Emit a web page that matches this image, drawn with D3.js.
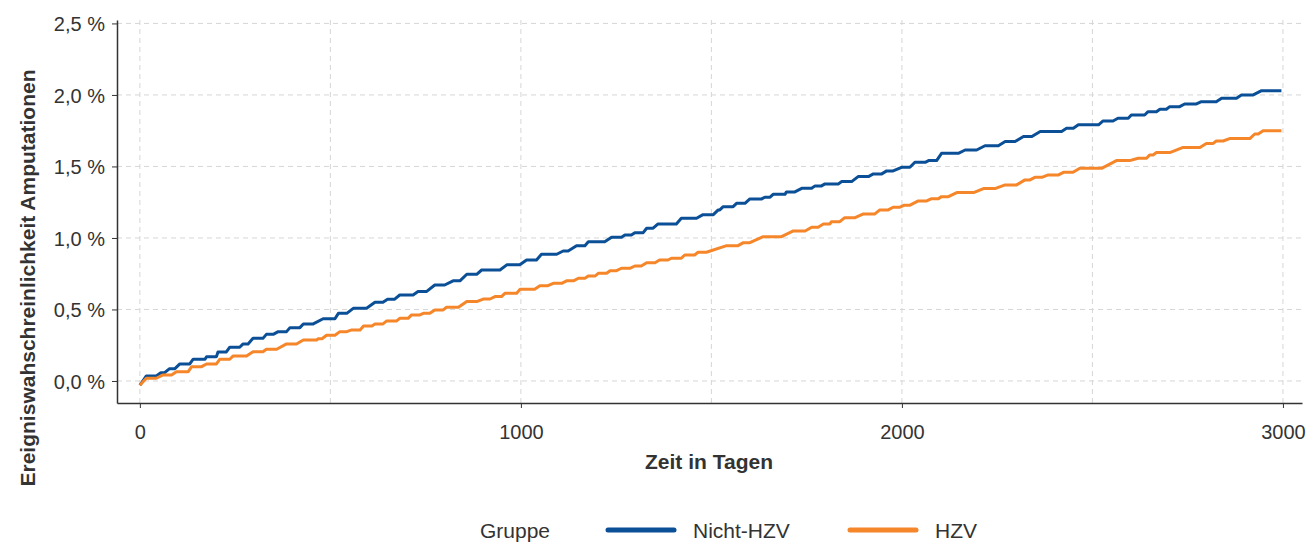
<!DOCTYPE html>
<html>
<head>
<meta charset="utf-8">
<script src="https://cdn.jsdelivr.net/npm/d3@7"></script>
<style>
  body { margin: 0; background: #fff; }
  svg text { font-family: "Liberation Sans", Arial, sans-serif; fill: #333; }
</style>
</head>
<body>
<svg id="chart" width="1306" height="542"></svg>
<script>
// Stufen der Kurven: Beginn, Ende (Tage) und Wert (%)
var nichtStart = [0, 17, 55, 78, 105, 140, 175, 205, 236, 271, 297, 332, 363, 394, 429, 481, 521, 560, 617, 650, 682, 730, 774, 822, 858, 897, 963, 1015, 1054, 1111, 1146, 1177, 1238, 1273, 1299, 1330, 1360, 1421, 1478, 1518, 1531, 1566, 1601, 1640, 1662, 1697, 1737, 1772, 1798, 1842, 1885, 1925, 1960, 1999, 2034, 2070, 2104, 2166, 2218, 2271, 2319, 2363, 2432, 2463, 2528, 2567, 2602, 2646, 2677, 2703, 2742, 2786, 2839, 2891, 2944]
var nichtEnde  = [0, 43, 65, 92, 131, 171, 201, 227, 262, 284, 323, 350, 385, 420, 455, 512, 543, 595, 638, 668, 717, 752, 800, 840, 884, 945, 997, 1041, 1094, 1124, 1168, 1220, 1264, 1290, 1321, 1347, 1408, 1461, 1505, 1522, 1557, 1588, 1632, 1654, 1693, 1719, 1763, 1789, 1833, 1868, 1912, 1947, 1977, 2021, 2061, 2091, 2148, 2196, 2253, 2297, 2341, 2419, 2450, 2516, 2554, 2594, 2637, 2668, 2694, 2729, 2773, 2825, 2878, 2922, 2996]
var nichtWert  = [-0.03, 0.035, 0.058, 0.086, 0.119, 0.152, 0.17, 0.203, 0.236, 0.259, 0.298, 0.326, 0.345, 0.373, 0.399, 0.435, 0.473, 0.508, 0.55, 0.571, 0.601, 0.625, 0.671, 0.70, 0.746, 0.776, 0.812, 0.846, 0.886, 0.909, 0.946, 0.974, 1.005, 1.021, 1.037, 1.068, 1.098, 1.138, 1.163, 1.196, 1.219, 1.242, 1.273, 1.285, 1.305, 1.322, 1.347, 1.364, 1.378, 1.394, 1.429, 1.448, 1.469, 1.494, 1.529, 1.541, 1.592, 1.615, 1.645, 1.674, 1.709, 1.745, 1.767, 1.791, 1.818, 1.837, 1.86, 1.883, 1.90, 1.918, 1.937, 1.953, 1.977, 2.0, 2.03]

var hzvStart = [0, 17, 61, 96, 136, 175, 210, 245, 297, 332, 385, 429, 468, 490, 525, 556, 587, 617, 648, 682, 713, 744, 774, 805, 858, 901, 932, 958, 998, 1050, 1085, 1120, 1151, 1177, 1203, 1234, 1264, 1299, 1330, 1364, 1395, 1430, 1465, 1540, 1584, 1636, 1715, 1763, 1794, 1815, 1850, 1899, 1942, 1977, 2005, 2043, 2078, 2104, 2144, 2214, 2271, 2323, 2349, 2384, 2424, 2467, 2563, 2620, 2650, 2668, 2738, 2799, 2825, 2860, 2926, 2948]
var hzvEnde  = [0, 43, 83, 127, 162, 201, 236, 280, 323, 359, 411, 464, 478, 512, 543, 578, 609, 638, 674, 704, 735, 761, 796, 836, 884, 919, 949, 989, 1036, 1071, 1107, 1138, 1168, 1195, 1225, 1251, 1286, 1316, 1352, 1386, 1421, 1456, 1487, 1570, 1601, 1684, 1746, 1780, 1811, 1837, 1877, 1929, 1964, 1995, 2020, 2065, 2096, 2122, 2188, 2244, 2301, 2336, 2367, 2411, 2449, 2524, 2598, 2642, 2659, 2703, 2782, 2817, 2843, 2913, 2935, 2996]
var hzvWert  = [-0.03, 0.019, 0.042, 0.065, 0.10, 0.119, 0.152, 0.175, 0.205, 0.222, 0.259, 0.287, 0.295, 0.32, 0.345, 0.357, 0.385, 0.399, 0.42, 0.438, 0.462, 0.473, 0.497, 0.515, 0.555, 0.573, 0.59, 0.613, 0.642, 0.666, 0.683, 0.70, 0.718, 0.734, 0.753, 0.771, 0.788, 0.804, 0.827, 0.846, 0.858, 0.881, 0.90, 0.946, 0.967, 1.009, 1.049, 1.075, 1.098, 1.114, 1.142, 1.168, 1.196, 1.215, 1.228, 1.259, 1.275, 1.289, 1.317, 1.345, 1.371, 1.406, 1.424, 1.441, 1.459, 1.487, 1.541, 1.557, 1.58, 1.597, 1.633, 1.661, 1.678, 1.695, 1.727, 1.75]

var gruppen = ['Nicht-HZV', 'HZV']
var farben = ['#0b4f96', '#f5862a']
var xTicks = [0, 1000, 2000, 3000]
var xGrid = [0, 500, 1000, 1500, 2000, 2500, 3000]
var yTicks = [0, 0.5, 1.0, 1.5, 2.0, 2.5]

var svg = d3.select('#chart')

var x = d3.scaleLinear().domain([-60, 3050]).range([117, 1302])
var y = d3.scaleLinear().domain([-0.154, 2.524]).range([403, 20])

function punkte(start, ende, wert) {
  var pts = []
  for (let i = 0; i < wert.length; i++) {
    pts.push([start[i], wert[i]])
    if (ende[i] !== start[i]) pts.push([ende[i], wert[i]])
  }
  return pts
}

var serien = [
  punkte(nichtStart, nichtEnde, nichtWert),
  punkte(hzvStart, hzvEnde, hzvWert)
]

// Gitter
svg.append('g').selectAll('line')
  .data(yTicks).enter().append('line')
    .attr('x1', 117).attr('x2', 1302)
    .attr('y1', d => y(d)).attr('y2', d => y(d))
    .attr('stroke', '#d6d6d6').attr('stroke-dasharray', '5,4')

svg.append('g').selectAll('line')
  .data(xGrid).enter().append('line')
    .attr('x1', d => x(d)).attr('x2', d => x(d))
    .attr('y1', 20).attr('y2', 403)
    .attr('stroke', '#d6d6d6').attr('stroke-dasharray', '5,4')

// Achsen
var fmt = d => d3.format('.1f')(d).replace('.', ',') + ' %'

var yAxis = svg.append('g')
  .attr('transform', 'translate(117,0)')
  .call(d3.axisLeft(y).tickValues(yTicks).tickFormat(fmt).tickSize(5).tickSizeOuter(0))
var xAxis = svg.append('g')
  .attr('transform', 'translate(0,403)')
  .call(d3.axisBottom(x).tickValues(xTicks).tickFormat(d3.format('d')).tickSize(5).tickSizeOuter(0))

;[yAxis, xAxis].forEach(function (a) {
  a.select('.domain').attr('stroke', '#333').attr('stroke-width', 1.5)
  a.selectAll('.tick line').attr('stroke', '#333')
  a.selectAll('.tick text').attr('font-size', 20).attr('fill', '#333')
    .style('font-family', '"Liberation Sans", Arial, sans-serif')
})
yAxis.selectAll('.tick text').attr('x', -12).attr('dy', '0.36em')
xAxis.selectAll('.tick text').attr('y', 22).attr('dy', '0.71em')

// Kurven
var line = d3.line().x(d => x(d[0])).y(d => y(d[1]))

svg.append('g').selectAll('path')
  .data(serien).enter().append('path')
    .attr('d', line)
    .attr('fill', 'none')
    .attr('stroke', (d, i) => farben[i])
    .attr('stroke-width', 3)
    .attr('stroke-linejoin', 'round')

// Titel
svg.append('text')
  .attr('x', 709).attr('y', 469)
  .attr('text-anchor', 'middle')
  .attr('font-size', 21).attr('font-weight', 'bold')
  .attr('fill', '#222')
  .text('Zeit in Tagen')

svg.append('text')
  .attr('transform', 'translate(35,278) rotate(-90)')
  .attr('text-anchor', 'middle')
  .attr('font-size', 21).attr('font-weight', 'bold')
  .attr('fill', '#222')
  .text('Ereigniswahschreinlichkeit Amputationen')

// Legende
svg.append('text')
  .attr('x', 480).attr('y', 538)
  .attr('font-size', 21)
  .text('Gruppe')

var leg = svg.append('g').selectAll('g')
  .data(gruppen).enter().append('g')
    .attr('transform', (d, i) => 'translate(' + (608 + i * 242) + ',530)')

leg.append('line')
  .attr('x1', 0).attr('x2', 66)
  .attr('stroke', (d, i) => farben[i])
  .attr('stroke-width', 5)
  .attr('stroke-linecap', 'round')

leg.append('text')
  .attr('x', 85).attr('y', 8)
  .attr('font-size', 21)
  .text(d => d)
</script>
</body>
</html>
